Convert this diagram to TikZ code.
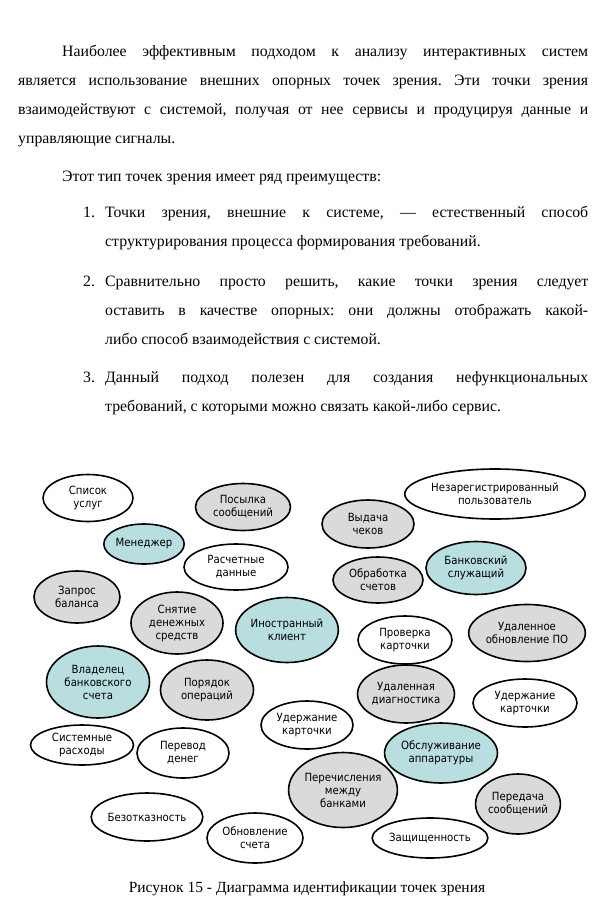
\documentclass[tikz,border=0pt]{standalone}
\usepackage{fontspec}
\setmainfont{Liberation Serif}
\newfontfamily\diagfont{DejaVu Sans Condensed}
\usetikzlibrary{shapes.geometric}
\definecolor{gr}{HTML}{DADADA}
\definecolor{tl}{HTML}{B8DEE0}
\tikzset{
 ov/.style={draw=black,line width=1.6pt,ellipse,inner sep=0pt,align=center,font=\diagfont\fontsize{11.3}{13}\selectfont},
 wh/.style={ov,fill=white}, g/.style={ov,fill=gr}, t/.style={ov,fill=tl},
 tx/.style={anchor=base west,inner sep=0pt,font=\fontsize{15.8}{18}\selectfont}
}
\newcommand{\jl}[1]{\makebox[#1][s]}
\frenchspacing
\begin{document}
\frenchspacing
\begin{tikzpicture}[x=1pt,y=-1pt]
\useasboundingbox (0,0) rectangle (614,917);
\node[tx] (l1) at (62,57) {\jl{526pt}{Наиболее эффективным подходом к анализу интерактивных систем}};
\node[tx] (l2) at (18,86) {\jl{570pt}{является использование внешних опорных точек зрения. Эти точки зрения}};
\node[tx] (l3) at (18,115) {\jl{570pt}{взаимодействуют с системой, получая от нее сервисы и продуцируя данные и}};
\node[tx] (l4) at (18,144) {управляющие сигналы.};
\node[tx] (l5) at (62,182) {Этот тип точек зрения имеет ряд преимуществ:};
\node[tx] (n1) at (83,218) {1.};
\node[tx] (a1) at (105,218) {\jl{483pt}{Точки зрения, внешние к системе, — естественный способ}};
\node[tx] (a2) at (105,247) {структурирования процесса формирования требований.};
\node[tx] (n2) at (83,286) {2.};
\node[tx] (b1) at (105,286) {\jl{483pt}{Сравнительно просто решить, какие точки зрения следует}};
\node[tx] (b2) at (105,315) {\jl{483pt}{оставить в качестве опорных: они должны отображать какой-}};
\node[tx] (b3) at (105,344) {либо способ взаимодействия с системой.};
\node[tx] (n3) at (83,382) {3.};
\node[tx] (c1) at (105,382) {\jl{483pt}{Данный подход полезен для создания нефункциональных}};
\node[tx] (c2) at (105,411) {требований, с которыми можно связать какой-либо сервис.};

\node[wh,minimum width=90,minimum height=47] (e1) at (88,498) {Список\\услуг};
\node[g,minimum width=95,minimum height=47] (e2) at (243,507) {Посылка\\сообщений};
\node[t,minimum width=74,minimum height=40] (e3) at (144,544) {Менеджер};
\node[wh,minimum width=104,minimum height=46] (e4) at (236,567) {Расчетные\\данные};
\node[g,minimum width=86,minimum height=52] (e5) at (77,597) {Запрос\\баланса};
\node[g,minimum width=92,minimum height=62] (e6) at (177,623) {Снятие\\денежных\\средств};
\node[t,minimum width=94,minimum height=65] (e7) at (287,630) {Иностранный\\клиент};
\node[t,minimum width=103,minimum height=72] (e8) at (98,682) {Владелец\\банковского\\счета};
\node[g,minimum width=93,minimum height=60] (e9) at (207,690) {Порядок\\операций};
\node[wh,minimum width=92,minimum height=48] (e10) at (307,725) {Удержание\\карточки};
\node[wh,minimum width=103,minimum height=40] (e11) at (82,745) {Системные\\расходы};
\node[wh,minimum width=92,minimum height=50] (e12) at (183,753) {Перевод\\денег};
\node[wh,minimum width=103,minimum height=48] (e13) at (147,817) {Безотказность};
\node[wh,minimum width=96,minimum height=50] (e14) at (255,838) {Обновление\\счета};
\node[g,minimum width=100,minimum height=75] (e15) at (343,790) {Перечисления\\между\\банками};
\node[wh,minimum width=110,minimum height=40] (e16) at (430,838) {Защищенность};
\node[g,minimum width=80,minimum height=60] (e17) at (518,804) {Передача\\сообщений};
\node[t,minimum width=98,minimum height=60] (e18) at (441,753) {Обслуживание\\аппаратуры};
\node[wh,minimum width=104,minimum height=48] (e19) at (525,703) {Удержание\\карточки};
\node[g,minimum width=95,minimum height=58] (e20) at (406,694) {Удаленная\\диагностика};
\node[g,minimum width=102,minimum height=57] (e21) at (527,633) {Удаленное\\обновление ПО};
\node[wh,minimum width=94,minimum height=48] (e22) at (405,640) {Проверка\\карточки};
\node[g,minimum width=90,minimum height=46] (e23) at (378,580) {Обработка\\счетов};
\node[t,minimum width=100,minimum height=53] (e24) at (476,568) {Банковский\\служащий};
\node[g,minimum width=92,minimum height=48] (e25) at (368,524) {Выдача\\чеков};
\node[wh,minimum width=166,minimum height=50] (e26) at (495,494) {Незарегистрированный\\пользователь};

\node[anchor=base,inner sep=0pt,font=\fontsize{15.5}{17}\selectfont] (cap) at (307,892) {Рисунок 15 - Диаграмма идентификации точек зрения};
\end{tikzpicture}
\end{document}
